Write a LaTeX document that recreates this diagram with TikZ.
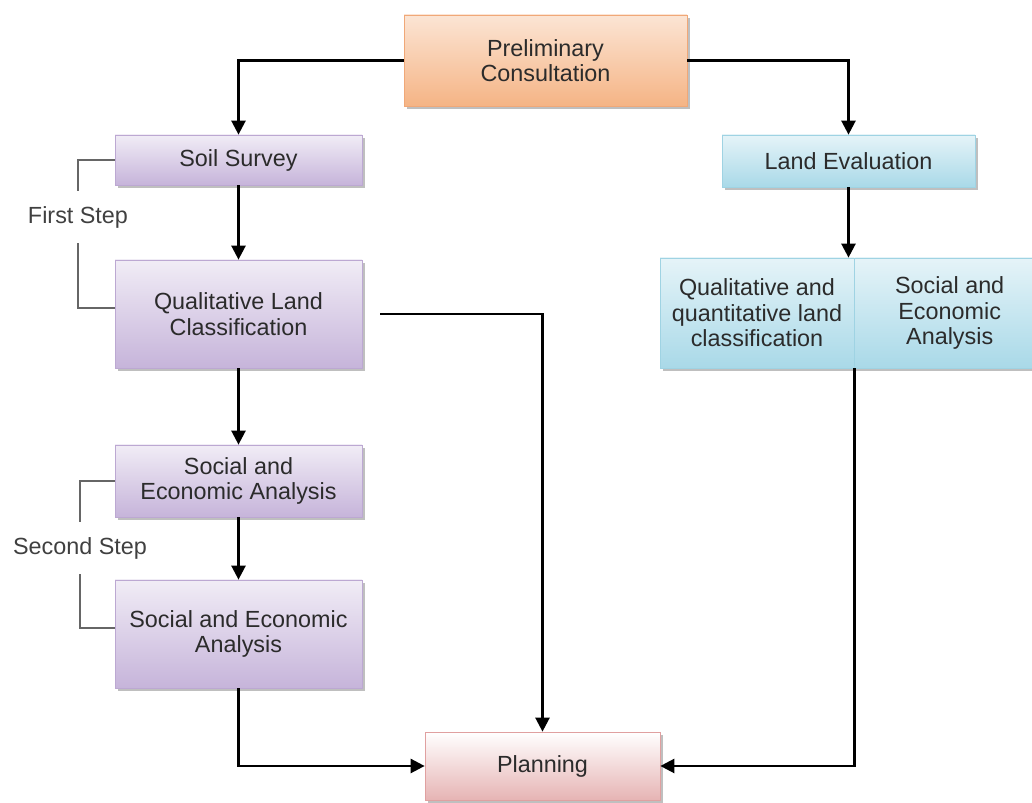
\documentclass[tikz,border=0pt]{standalone}
\usepackage{fontspec}
\setmainfont{Liberation Sans}
\usetikzlibrary{arrows.meta,shadows}
\definecolor{txtgrey}{HTML}{2B2B2B}
\definecolor{lilac}{HTML}{C6B4DA}
\definecolor{lilacline}{HTML}{BCA8D2}
\definecolor{peach}{HTML}{F5B485}
\definecolor{peachline}{HTML}{F0A878}
\definecolor{skyblue}{HTML}{A9D9E8}
\definecolor{skyline}{HTML}{9FD3E3}
\definecolor{rose}{HTML}{E6B4B4}
\definecolor{roseline}{HTML}{E0A0A0}
\tikzset{
  stage/.style={rectangle,align=center,text=txtgrey,inner sep=0pt,
    font=\fontsize{13.3}{14.5}\selectfont,
    drop shadow={shadow xshift=0.05cm,shadow yshift=-0.06cm,fill=black,opacity=0.25}},
  purplebox/.style={stage,draw=lilacline,top color=lilac!25,bottom color=lilac},
  orangebox/.style={stage,draw=peachline,top color=peach!35,bottom color=peach},
  bluebox/.style={stage,draw=skyline,top color=skyblue!30,bottom color=skyblue},
  pinkbox/.style={stage,draw=roseline,top color=white,bottom color=rose},
  flow/.style={-{Triangle[width=0.28cm,length=0.28cm]},line width=0.05cm},
  bracket/.style={draw=black!60,line width=0.035cm},
  steplabel/.style={text=black!75,inner xsep=0pt,inner ysep=0.3cm,
    font=\fontsize{13.3}{14.5}\selectfont}
}
\begin{document}
\begin{tikzpicture}
  \useasboundingbox (0,0) rectangle (20.64,16.06);
  % left column
  \node[orangebox,minimum width=5.66cm,minimum height=1.82cm] (prelim) at (10.91,14.85) {Preliminary\\Consultation};
  \node[purplebox,minimum width=4.94cm,minimum height=1.0cm] (soil) at (4.77,12.86) {Soil Survey};
  \node[purplebox,minimum width=4.94cm,minimum height=2.16cm] (qlc) at (4.77,9.78) {Qualitative Land\\Classification};
  \node[purplebox,minimum width=4.94cm,minimum height=1.44cm] (sea) at (4.77,6.44) {Social and\\Economic Analysis};
  \node[purplebox,minimum width=4.94cm,minimum height=2.16cm] (seb) at (4.77,3.38) {Social and Economic\\Analysis};
  % right column
  \node[bluebox,minimum width=5.06cm,minimum height=1.04cm] (landev) at (16.97,12.84) {Land Evaluation};
  \node[bluebox,minimum width=3.88cm,minimum height=2.2cm] (qlq) at (15.14,9.8) {Qualitative and\\quantitative land\\classification};
  \node[bluebox,anchor=west,minimum width=3.8cm,minimum height=2.2cm] (sec) at (qlq.east) {Social and\\Economic\\Analysis};
  \node[pinkbox,minimum width=4.7cm,minimum height=1.36cm] (plan) at (10.85,0.74) {Planning};
  % steps
  \node[steplabel] (first) at (1.56,11.72) {First Step};
  \node[steplabel] (second) at (1.6,5.1) {Second Step};
  \draw[bracket] (soil.west) -| (first.north);
  \draw[bracket] ([yshift=0.12cm]qlc.west) -| (first.south);
  \draw[bracket] (sea.west) -| (second.north);
  \draw[bracket] ([yshift=0.12cm]seb.west) -| (second.south);
  % connectors
  \draw[flow] (prelim.west) -| (soil.north);
  \draw[flow] (prelim.east) -| (landev.north);
  \draw[flow] (soil) -- (qlc);
  \draw[flow] (qlc) -- (sea);
  \draw[flow] (sea) -- (seb);
  \draw[flow] (landev.south) -- (landev.south |- qlq.north);
  \draw[flow,shorten <=0.36cm] (qlc.east) -| (plan.north);
  \draw[flow] (seb.south) |- (plan.west);
  \draw[flow] (qlq.south east) |- (plan.east);
\end{tikzpicture}
\end{document}
